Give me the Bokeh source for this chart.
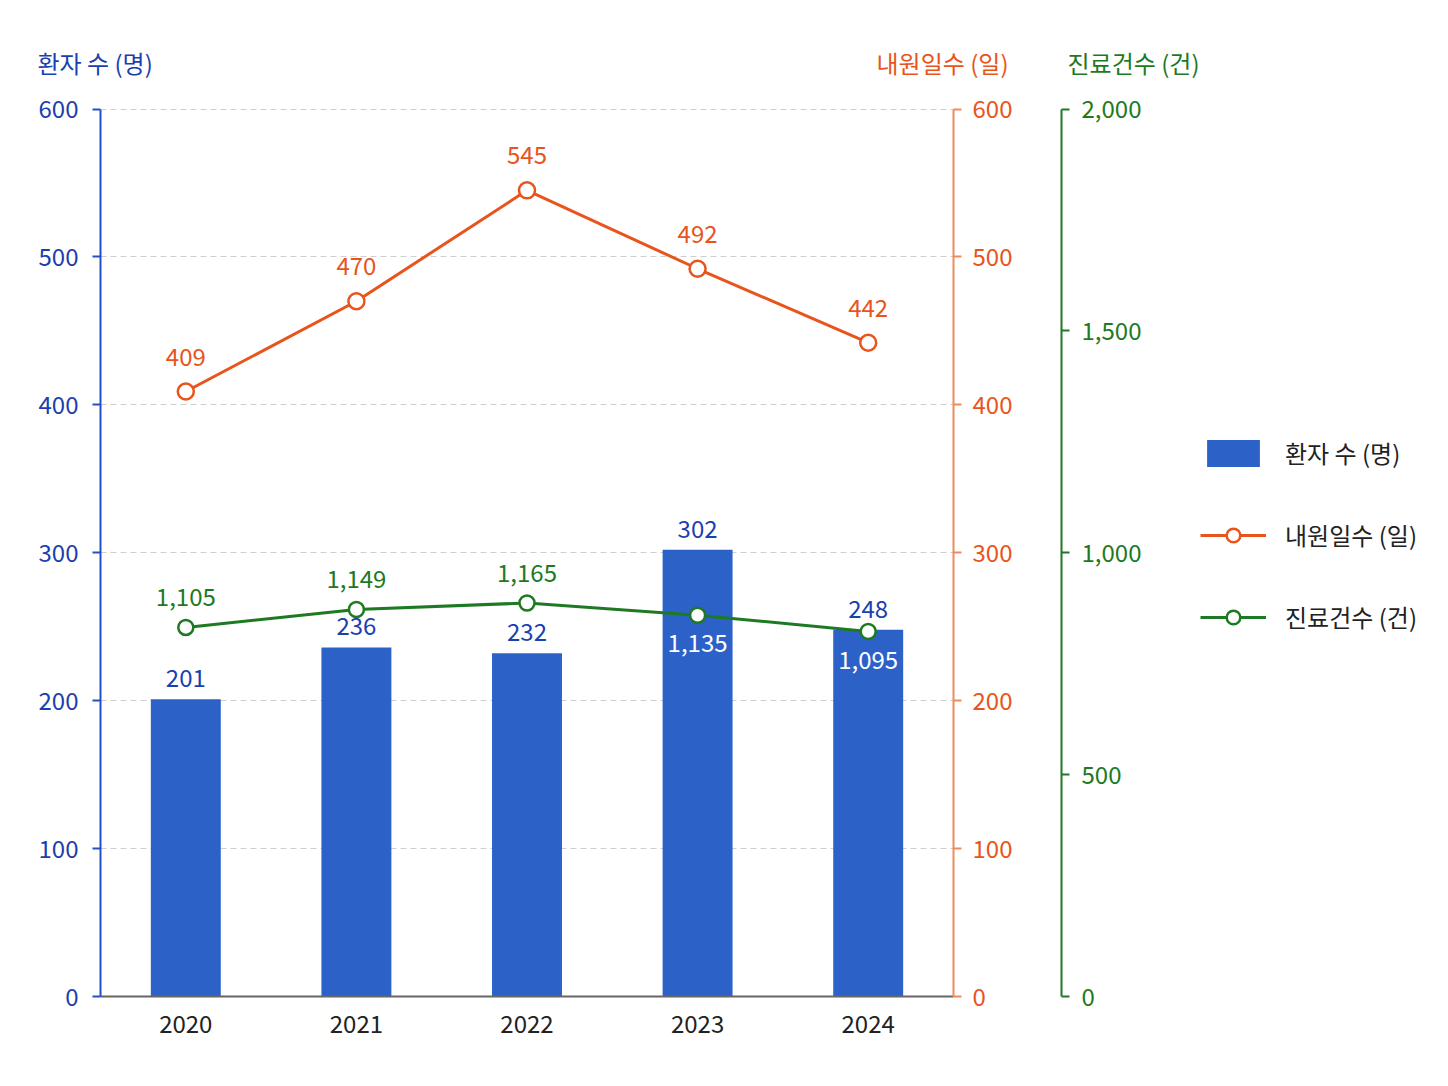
from bokeh.plotting import figure
from bokeh.layouts import row
from bokeh.models import (Range1d, LinearAxis, FactorRange, ColumnDataSource, Legend,
                          LegendItem, NumeralTickFormatter, FixedTicker, CDSView,
                          IndexFilter, Label)
from bokeh.core.properties import value
from bokeh.embed import file_html
from bokeh.resources import INLINE

# ---- data ----
years = ["2020", "2021", "2022", "2023", "2024"]
patients = [201, 236, 232, 302, 248]          # 환자 수 (명)
visit_days = [409, 470, 545, 492, 442]        # 내원일수 (일)
claims = [1105, 1149, 1165, 1135, 1095]       # 진료건수 (건)
left_ticks = [0, 100, 200, 300, 400, 500, 600]
orange_ticks = [0, 100, 200, 300, 400, 500, 600]
green_ticks = [0, 500, 1000, 1500, 2000]
axis_titles = ["환자 수 (명)", "내원일수 (일)", "진료건수 (건)"]
series_names = ["환자 수 (명)", "내원일수 (일)", "진료건수 (건)"]

FONT = "Noto Sans CJK KR"
BLUE_BAR = "#2C62C8"
BLUE_TXT = "#1B3FAE"
BLUE_AX = "#2350C8"
ORANGE = "#E8541C"
ORANGE_AX = "#F08A5D"
GREEN = "#1E7A22"
H = 1070
W_MAIN, W_LEG = 1200, 230
FR_L, FR_T, FR_R, FR_B = 100, 107, 953, 996

LEFT_MAX = 600
PAD = 1.0017                      # tiny headroom so the 600 gridline is drawn
GREEN_PTS = (200, 2380)           # scale used by the 진료건수 line in the original

p = figure(width=W_MAIN, height=H, x_range=FactorRange(*years),
           y_range=Range1d(0, LEFT_MAX * PAD), output_backend="svg",
           toolbar_location=None,
           min_border_left=FR_L, min_border_top=FR_T,
           min_border_bottom=H - FR_B, min_border_right=W_MAIN - FR_R)
p.outline_line_color = None
p.background_fill_color = "white"
p.border_fill_color = "white"

p.extra_y_ranges = {"orange": Range1d(0, 600 * PAD), "green": Range1d(0, 2000 * PAD),
                    "green_pts": Range1d(*GREEN_PTS)}

def style_axis(ax, line_color, txt_color, standoff, bounds):
    ax.bounds = bounds
    ax.axis_line_color = line_color
    ax.axis_line_width = 2
    ax.major_tick_line_color = line_color
    ax.major_tick_line_width = 2
    ax.major_tick_out = 8
    ax.major_tick_in = 0
    ax.minor_tick_line_color = None
    ax.major_label_text_color = txt_color
    ax.major_label_text_font = FONT
    ax.major_label_text_font_size = "24px"
    ax.major_label_standoff = standoff

ly = p.yaxis[0]
ly.ticker = FixedTicker(ticks=left_ticks)
style_axis(ly, BLUE_AX, BLUE_TXT, 14, (left_ticks[0], left_ticks[-1]))

oax = LinearAxis(y_range_name="orange", ticker=FixedTicker(ticks=orange_ticks))
style_axis(oax, ORANGE_AX, ORANGE, 11, (orange_ticks[0], orange_ticks[-1]))
oax.axis_label = " "
oax.axis_label_standoff = 16
oax.axis_label_text_font_size = "24px"
p.add_layout(oax, "right")

gax = LinearAxis(y_range_name="green", ticker=FixedTicker(ticks=green_ticks),
                 formatter=NumeralTickFormatter(format="0,0"))
style_axis(gax, GREEN, GREEN, 12, (green_ticks[0], green_ticks[-1]))
p.add_layout(gax, "right")

xa = p.xaxis[0]
xa.axis_line_color = "#666666"
xa.axis_line_width = 2
xa.major_tick_line_color = None
xa.minor_tick_line_color = None
xa.major_label_text_color = "#222222"
xa.major_label_text_font = FONT
xa.major_label_text_font_size = "24px"
xa.major_label_standoff = 12

p.xgrid.visible = False
p.ygrid.ticker = FixedTicker(ticks=[t for t in left_ticks if t > 0])
p.ygrid.grid_line_color = "#cfcfcf"
p.ygrid.grid_line_dash = "6 4"
p.ygrid.grid_line_width = 1.2

src = ColumnDataSource(dict(
    year=years, patients=patients, visit=visit_days, claims=claims,
    pat_lbl=[str(v) for v in patients],
    visit_lbl=[str(v) for v in visit_days],
    claim_lbl=[f"{v:,}" for v in claims],
))

BAR_KW = dict(width=0.41, fill_color=BLUE_BAR, line_color=None)
OL_KW = dict(line_color=ORANGE, line_width=3)
OP_KW = dict(marker="circle", size=16, fill_color="white", line_color=ORANGE, line_width=2.5)
GL_KW = dict(line_color=GREEN, line_width=3)
GP_KW = dict(marker="circle", size=15, fill_color="white", line_color=GREEN, line_width=2.5)

p.vbar(x="year", top="patients", source=src, **BAR_KW)
p.line("year", "visit", y_range_name="orange", source=src, **OL_KW)
p.scatter("year", "visit", y_range_name="orange", source=src, **OP_KW)
p.line("year", "claims", y_range_name="green_pts", source=src, **GL_KW)
p.scatter("year", "claims", y_range_name="green_pts", source=src, **GP_KW)

# data labels
p.text("year", "patients", text="pat_lbl", source=src, text_align="center",
       text_baseline="middle", y_offset=-21, text_color=BLUE_TXT,
       text_font=value(FONT), text_font_size=value("24px"))
p.text("year", "visit", text="visit_lbl", source=src, y_range_name="orange",
       text_align="center", text_baseline="middle", y_offset=-35, text_color=ORANGE,
       text_font=value(FONT), text_font_size=value("24px"))

g0, g1 = GREEN_PTS
inside = [i for i in range(len(years))
          if patients[i] / LEFT_MAX > (claims[i] - g0) / (g1 - g0)]
outside = [i for i in range(len(years)) if i not in inside]
p.text("year", "claims", text="claim_lbl", source=src, y_range_name="green_pts",
       view=CDSView(filter=IndexFilter(outside)),
       text_align="center", text_baseline="middle", y_offset=-30, text_color=GREEN,
       text_font=value(FONT), text_font_size=value("24px"))
p.text("year", "claims", text="claim_lbl", source=src, y_range_name="green_pts",
       view=CDSView(filter=IndexFilter(inside)),
       text_align="center", text_baseline="middle", y_offset=28, text_color="white",
       text_font=value(FONT), text_font_size=value("24px"))

# axis titles: each Label gets its own stacked panel above the frame (~35px each)
for txt, x, y, align, col in zip(axis_titles, [37 - FR_L, 1008 - FR_L, 1067 - FR_L],
                                 [45, 10, -25], ["left", "right", "left"],
                                 [BLUE_TXT, ORANGE, GREEN]):
    p.add_layout(Label(x=x, y=y, x_units="screen", y_units="screen", text=txt,
                       text_align=align, text_baseline="middle", text_color=col,
                       text_font=FONT, text_font_size="24px"), "above")

# ---- legend panel (separate figure to the right) ----
leg = figure(width=W_LEG, height=H, x_range=FactorRange(*years), y_range=Range1d(0, 600),
             x_axis_type=None, y_axis_type=None, output_backend="svg",
             toolbar_location=None, min_border=0)
leg.outline_line_color = None
lb = leg.vbar(x="year", top="patients", source=src, visible=False, **BAR_KW)
lol = leg.line("year", "visit", source=src, visible=False, **OL_KW)
lop = leg.scatter("year", "visit", source=src, visible=False, **OP_KW)
lgl = leg.line("year", "claims", source=src, visible=False, **GL_KW)
lgp = leg.scatter("year", "claims", source=src, visible=False, **GP_KW)

legend = Legend(items=[
    LegendItem(label=series_names[0], renderers=[lb]),
    LegendItem(label=series_names[1], renderers=[lol, lop]),
    LegendItem(label=series_names[2], renderers=[lgl, lgp]),
], location=(0, 362))
legend.border_line_color = None
legend.background_fill_alpha = 0
legend.inactive_fill_alpha = 0
legend.padding = 0
legend.margin = 0
legend.glyph_width = 66
legend.glyph_height = 34
legend.spacing = 47
legend.label_standoff = 19
legend.label_text_font = FONT
legend.label_text_font_size = "24px"
legend.label_text_color = "#222222"
leg.add_layout(legend)

layout = row(p, leg, spacing=0)
open("out.html", "w").write(file_html(layout, INLINE))
